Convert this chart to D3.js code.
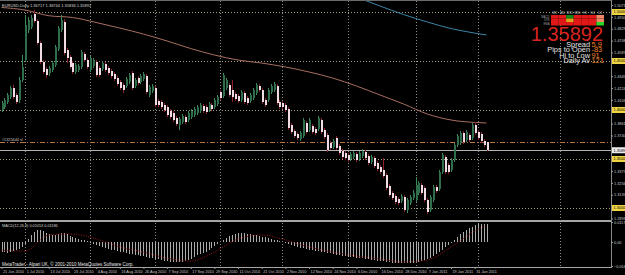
<!DOCTYPE html>
<html lang="en">
<head>
<meta charset="utf-8">
<title>EURUSD,Daily - MetaTrader</title>
<script src="https://cdn.jsdelivr.net/npm/d3@7"></script>
<style>
html, body { margin: 0; padding: 0; background: #000; }
svg { display: block; }
</style>
</head>
<body>
<div id="chart"></div>
<script>
// ---- data ----
var dateLabels = ["21 Jun 2010","1 Jul 2010","13 Jul 2010","23 Jul 2010","4 Aug 2010","16 Aug 2010","26 Aug 2010",
  "7 Sep 2010","17 Sep 2010","29 Sep 2010","11 Oct 2010","21 Oct 2010","2 Nov 2010","12 Nov 2010","24 Nov 2010",
  "6 Dec 2010","16 Dec 2010","28 Dec 2010","7 Jan 2011","19 Jan 2011","31 Jan 2011"];

// bar index of each month start (last one is in the empty area on the right)
var monthGrid = [8, 30, 52, 74, 95, 117, 140, 161, 189];

var open = [1.4000,1.4031,1.4082,1.4133,1.4224,1.4153,1.4102,1.4306,1.4510,1.4816,
  1.4847,1.4979,1.4908,1.4683,1.4490,1.4418,1.4377,1.4408,1.4459,1.4622,
  1.4816,1.4898,1.4612,1.4541,1.4479,1.4388,1.4408,1.4439,1.4571,1.4510,
  1.4408,1.4449,1.4490,1.4428,1.4418,1.4469,1.4428,1.4398,1.4367,1.4326,
  1.4286,1.4255,1.4245,1.4286,1.4377,1.4245,1.4326,1.4286,1.4316,1.4347,
  1.4153,1.4194,1.4224,1.4092,1.4082,1.4051,1.4031,1.3990,1.3969,1.3918,
  1.3847,1.3878,1.3929,1.3898,1.3929,1.3949,1.3969,1.3990,1.4041,1.4031,
  1.4000,1.4051,1.4031,1.4061,1.4184,1.4143,1.4224,1.4255,1.4204,1.4163,
  1.4143,1.4102,1.4173,1.4122,1.4092,1.4122,1.4173,1.4245,1.4204,1.4102,
  1.4102,1.4184,1.4204,1.4245,1.4082,1.4071,1.4051,1.4010,1.3847,1.3786,
  1.3755,1.3704,1.3735,1.3867,1.3796,1.3837,1.3806,1.3806,1.3898,1.3796,
  1.3745,1.3663,1.3623,1.3714,1.3633,1.3582,1.3561,1.3541,1.3500,1.3521,
  1.3551,1.3500,1.3531,1.3572,1.3531,1.3470,1.3510,1.3459,1.3419,1.3388,
  1.3337,1.3225,1.3153,1.3123,1.3092,1.3072,1.3113,1.2980,1.3051,1.3102,
  1.3082,1.3153,1.3235,1.3204,1.3082,1.2980,1.3082,1.3215,1.3194,1.3368,
  1.3521,1.3439,1.3388,1.3490,1.3643,1.3663,1.3765,1.3694,1.3745,1.3714,
  1.3847,1.3776,1.3755,1.3684,1.36717];
var high = [1.4092,1.4122,1.4173,1.4245,1.4255,1.4173,1.4337,1.4561,1.4969,1.4949,
  1.4969,1.5020,1.4928,1.4704,1.4510,1.4439,1.4449,1.4500,1.4663,1.4857,
  1.4969,1.4928,1.4632,1.4561,1.4500,1.4479,1.4469,1.4612,1.4592,1.4530,
  1.4551,1.4530,1.4510,1.4449,1.4500,1.4490,1.4449,1.4418,1.4388,1.4347,
  1.4306,1.4275,1.4337,1.4377,1.4398,1.4326,1.4347,1.4367,1.4388,1.4367,
  1.4255,1.4265,1.4245,1.4112,1.4102,1.4071,1.4051,1.4010,1.3990,1.3939,
  1.3929,1.3959,1.3949,1.3990,1.4010,1.4031,1.4051,1.4071,1.4061,1.4051,
  1.4082,1.4071,1.4122,1.4153,1.4204,1.4377,1.4326,1.4275,1.4306,1.4184,
  1.4163,1.4204,1.4194,1.4143,1.4173,1.4224,1.4275,1.4265,1.4224,1.4122,
  1.4224,1.4265,1.4286,1.4265,1.4102,1.4092,1.4071,1.4031,1.3867,1.3806,
  1.3776,1.3786,1.3918,1.3888,1.3918,1.3857,1.3827,1.3939,1.3918,1.3816,
  1.3765,1.3684,1.3704,1.3735,1.3653,1.3602,1.3582,1.3561,1.3572,1.3582,
  1.3572,1.3582,1.3602,1.3592,1.3551,1.3541,1.3531,1.3480,1.3439,1.3510,
  1.3357,1.3245,1.3174,1.3143,1.3113,1.3143,1.3133,1.3102,1.3133,1.3184,
  1.3317,1.3276,1.3255,1.3225,1.3102,1.3133,1.3235,1.3235,1.3388,1.3561,
  1.3541,1.3459,1.3510,1.3663,1.3755,1.3786,1.3786,1.3796,1.3765,1.3867,
  1.3878,1.3796,1.3776,1.3704,1.36744];
var low = [1.3980,1.4010,1.4061,1.4112,1.4112,1.4061,1.4071,1.4286,1.4490,1.4785,
  1.4826,1.4887,1.4663,1.4469,1.4367,1.4326,1.4347,1.4388,1.4439,1.4602,
  1.4796,1.4561,1.4479,1.4418,1.4367,1.4367,1.4388,1.4418,1.4490,1.4418,
  1.4388,1.4428,1.4337,1.4337,1.4398,1.4388,1.4357,1.4326,1.4296,1.4245,
  1.4204,1.4173,1.4224,1.4265,1.4204,1.4224,1.4255,1.4265,1.4296,1.4163,
  1.4133,1.4173,1.4031,1.4031,1.4010,1.3980,1.3929,1.3908,1.3878,1.3837,
  1.3796,1.3857,1.3857,1.3878,1.3908,1.3929,1.3949,1.3969,1.3969,1.3959,
  1.3980,1.3990,1.4010,1.4041,1.4102,1.4122,1.4204,1.4133,1.4082,1.4092,
  1.4071,1.4082,1.4061,1.4051,1.4071,1.4102,1.4153,1.4184,1.4061,1.4031,
  1.4082,1.4163,1.4184,1.4051,1.4010,1.4010,1.3980,1.3796,1.3755,1.3714,
  1.3694,1.3684,1.3714,1.3755,1.3776,1.3755,1.3745,1.3786,1.3755,1.3704,
  1.3572,1.3592,1.3602,1.3592,1.3541,1.3500,1.3490,1.3470,1.3480,1.3500,
  1.3470,1.3480,1.3510,1.3490,1.3439,1.3449,1.3408,1.3378,1.3347,1.3306,
  1.3184,1.3113,1.3082,1.3041,1.3031,1.3051,1.2960,1.2949,1.3031,1.3082,
  1.3062,1.3133,1.3133,1.3062,1.2939,1.2960,1.3062,1.3153,1.3174,1.3347,
  1.3347,1.3347,1.3368,1.3470,1.3623,1.3643,1.3653,1.3674,1.3674,1.3694,
  1.3745,1.3694,1.3663,1.3623,1.35836];
var close = [1.4071,1.4102,1.4153,1.4224,1.4133,1.4082,1.4306,1.4439,1.4867,1.4918,
  1.4938,1.4908,1.4683,1.4490,1.4388,1.4357,1.4428,1.4479,1.4643,1.4836,
  1.4918,1.4581,1.4530,1.4439,1.4388,1.4459,1.4449,1.4592,1.4510,1.4439,
  1.4530,1.4510,1.4357,1.4357,1.4479,1.4408,1.4377,1.4347,1.4316,1.4265,
  1.4224,1.4204,1.4316,1.4357,1.4224,1.4306,1.4275,1.4347,1.4367,1.4184,
  1.4235,1.4245,1.4051,1.4051,1.4031,1.4000,1.3949,1.3929,1.3898,1.3857,
  1.3908,1.3939,1.3878,1.3969,1.3990,1.4010,1.4031,1.4051,1.3990,1.3980,
  1.4061,1.4010,1.4102,1.4133,1.4122,1.4357,1.4306,1.4153,1.4133,1.4112,
  1.4092,1.4184,1.4082,1.4071,1.4153,1.4204,1.4255,1.4204,1.4082,1.4051,
  1.4204,1.4245,1.4265,1.4071,1.4031,1.4031,1.4000,1.3816,1.3776,1.3735,
  1.3714,1.3765,1.3898,1.3776,1.3898,1.3776,1.3765,1.3918,1.3776,1.3725,
  1.3592,1.3612,1.3684,1.3612,1.3561,1.3521,1.3510,1.3490,1.3551,1.3561,
  1.3490,1.3561,1.3582,1.3510,1.3459,1.3521,1.3429,1.3398,1.3368,1.3327,
  1.3204,1.3133,1.3102,1.3062,1.3051,1.3123,1.2980,1.3082,1.3113,1.3153,
  1.3235,1.3255,1.3153,1.3082,1.2960,1.3113,1.3215,1.3174,1.3368,1.3541,
  1.3368,1.3368,1.3490,1.3643,1.3735,1.3765,1.3674,1.3776,1.3694,1.3847,
  1.3765,1.3714,1.3684,1.3643,1.35892];

// moving averages and MACD signal, read every 8th bar
var sampleIdx = [0,8,16,24,32,40,48,56,64,72,80,88,96,104,112,120,128,136,144,152,160,164];
var maPink = [1.5046,1.5020,1.4962,1.4944,1.4893,1.4836,1.4775,1.4704,1.4627,1.4561,1.4510,
  1.4479,1.4439,1.4388,1.4326,1.4245,1.4153,1.4061,1.3959,1.3898,1.3873,1.3867];
var maBlue = [null,null,null,null,null,null,null,null,null,null,null,
  null,null,null,null,1.5153,1.5061,1.4974,1.4898,1.4831,1.4785,1.4765];
var macdSignal = [-0.0047,-0.0053,0.0041,0.0047,0.0018,-0.0029,-0.0059,-0.0094,-0.0111,-0.0059,0.0018,
  0.0041,0.0012,-0.0029,-0.0059,-0.0082,-0.0099,-0.0117,-0.0105,-0.0029,0.0064,0.0099];

// MACD main (histogram), one per bar
var macdMain = [-0.0059,-0.0059,-0.0064,-0.0059,-0.0053,-0.0047,-0.0041,-0.0029,
  -0.0012,0.0018,0.0041,0.0059,0.0070,0.0070,0.0064,
  0.0053,0.0047,0.0041,0.0041,0.0047,0.0053,0.0053,0.0047,
  0.0035,0.0029,0.0023,0.0018,0.0012,0.0012,0.0006,
  -0.0006,-0.0012,-0.0018,-0.0023,-0.0029,-0.0035,-0.0041,-0.0047,
  -0.0047,-0.0053,-0.0059,-0.0059,-0.0064,-0.0070,-0.0070,-0.0076,
  -0.0076,-0.0082,-0.0082,-0.0088,-0.0094,-0.0094,-0.0099,-0.0099,
  -0.0105,-0.0111,-0.0111,-0.0117,-0.0117,-0.0117,-0.0117,-0.0117,
  -0.0111,-0.0105,-0.0099,-0.0088,-0.0076,-0.0070,-0.0064,-0.0059,
  -0.0047,-0.0035,-0.0023,-0.0012,0.0000,0.0012,
  0.0023,0.0035,0.0041,0.0047,0.0053,0.0053,0.0053,0.0047,
  0.0047,0.0041,0.0041,0.0035,0.0029,0.0029,0.0023,0.0018,
  0.0012,0.0012,0.0006,0.0000,-0.0006,
  -0.0012,-0.0018,-0.0023,-0.0029,-0.0035,-0.0035,-0.0041,-0.0047,
  -0.0047,-0.0053,-0.0053,-0.0059,-0.0059,-0.0064,-0.0064,-0.0070,
  -0.0076,-0.0076,-0.0082,-0.0082,-0.0088,-0.0088,-0.0088,-0.0094,
  -0.0094,-0.0094,-0.0099,-0.0099,-0.0105,-0.0105,-0.0111,-0.0111,
  -0.0111,-0.0117,-0.0117,-0.0123,-0.0123,-0.0123,-0.0123,-0.0123,
  -0.0123,-0.0123,-0.0123,-0.0117,-0.0117,-0.0111,-0.0105,-0.0099,
  -0.0094,-0.0082,-0.0070,-0.0059,-0.0047,-0.0029,-0.0018,-0.0006,
  0.0012,0.0029,0.0047,0.0059,0.0070,0.0082,0.0088,0.0099,
  0.0105,0.0105,0.0105,0.01053];

// price axis
var priceTicks = [1.5071,1.4950,1.4829,1.4708,1.4587,1.4345,1.4224,1.4103,1.3861,1.3740,1.3377,1.3256,1.3135,1.2893];
var levels = [1.50, 1.45, 1.40, 1.35, 1.30];
var slPrice = 1.3673;
var macdTicks = [0.0117, 0, -0.0140];

// info panel
var panelCols = ["M1","M5","M15","M30","H1","H4","D1"];
var panelRows = ["MACD","STR","EMA"];
var panelState = [
  ["dn","dn","up","dn","dn","dn","wk"],
  ["dn","dn","fl","dn","dn","dn","wk"],
  ["dn","dn","dn","dn","dn","dn","up2"]
];
var infoLabels = ["Spread","Pips to Open","Hi to Low","Daily Av"];
var infoValues = ["5.9","-83","91","121"];

// ---- drawing ----
var FONT = "'Liberation Sans', Arial, sans-serif";
var W = 625, H = 275;
var svg = d3.select("#chart").append("svg")
    .attr("width", W).attr("height", H)
    .attr("font-family", FONT);
svg.append("rect").attr("width", W).attr("height", H).attr("fill", "#000");

var x = d3.scaleLinear().domain([0, 164]).range([1.5, 486.5]);
var y = d3.scaleLinear().domain([1.30, 1.50]).range([208, 12]);
var ym = d3.scaleLinear().domain([-0.0140, 0.0117]).range([266, 222]);
var last = close.length - 1;

var defs = svg.append("defs");
defs.append("clipPath").attr("id", "clipMain")
    .append("rect").attr("x", 0).attr("y", 1).attr("width", 611).attr("height", 219);

// window frames
svg.append("line").attr("x1", 0).attr("x2", 611).attr("y1", 0.5).attr("y2", 0.5).attr("stroke", "#6a6a6a");
svg.append("line").attr("x1", 0).attr("x2", 611).attr("y1", 221).attr("y2", 221)
    .attr("stroke", "#a6a6a6").attr("stroke-width", 2);
svg.append("line").attr("x1", 0).attr("x2", 611).attr("y1", 267.5).attr("y2", 267.5).attr("stroke", "#a6a6a6");
svg.append("line").attr("x1", 611.5).attr("x2", 611.5).attr("y1", 0).attr("y2", 268).attr("stroke", "#8a8a8a");

// vertical month grid
svg.append("g").selectAll("line").data(monthGrid).enter().append("line")
    .attr("x1", function(d) { return Math.round(x(d)) + 0.5; })
    .attr("x2", function(d) { return Math.round(x(d)) + 0.5; })
    .attr("y1", 1).attr("y2", 267)
    .attr("stroke", "#8c8c8c").attr("stroke-dasharray", "1,2");

var main = svg.append("g").attr("clip-path", "url(#clipMain)");

// horizontal level lines
main.append("g").selectAll("line").data(levels).enter().append("line")
    .attr("x1", 0).attr("x2", 611)
    .attr("y1", function(d) { return Math.round(y(d)) + 0.5; })
    .attr("y2", function(d) { return Math.round(y(d)) + 0.5; })
    .attr("stroke", "#a8a084").attr("stroke-dasharray", "1,2");

// stop loss line
main.append("line").attr("x1", 0).attr("x2", 611)
    .attr("y1", Math.round(y(slPrice)) + 0.5).attr("y2", Math.round(y(slPrice)) + 0.5)
    .attr("stroke", "#b8743a").attr("stroke-dasharray", "5,2,1,2");
main.append("text").attr("x", 2).attr("y", Math.round(y(slPrice)) - 1.5)
    .attr("font-size", 3.8).attr("fill", "#c8c8c8").text("#1325644 sl");

// bid line
main.append("line").attr("x1", 0).attr("x2", 611)
    .attr("y1", Math.round(y(close[last])) + 0.5).attr("y2", Math.round(y(close[last])) + 0.5)
    .attr("stroke", "#b4b4b4");

// moving averages
var maLine = function(vals) {
  return d3.line()
    .defined(function(d, k) { return vals[k] != null; })
    .x(function(d) { return x(d); })
    .y(function(d, k) { return y(vals[k]); })
    .curve(d3.curveMonotoneX)(sampleIdx);
};
main.append("path").attr("d", maLine(maPink)).attr("fill", "none")
    .attr("stroke", "#a86e62").attr("stroke-width", 1);
main.append("path").attr("d", maLine(maBlue)).attr("fill", "none")
    .attr("stroke", "#3b85a8").attr("stroke-width", 1);

// candles
var bars = d3.range(close.length).map(function(i) {
  return { i: i, o: open[i], h: high[i], l: low[i], c: close[i] };
});
var gC = main.append("g").attr("shape-rendering", "crispEdges");
gC.selectAll(".wick").data(bars).enter().append("line")
    .attr("class", "wick")
    .attr("x1", function(d) { return Math.round(x(d.i)) + 0.5; })
    .attr("x2", function(d) { return Math.round(x(d.i)) + 0.5; })
    .attr("y1", function(d) { return y(d.h); })
    .attr("y2", function(d) { return y(d.l); })
    .attr("stroke", function(d) { return d.c >= d.o ? "#3c8a5c" : "#8e1f2c"; });
gC.selectAll(".body").data(bars).enter().append("rect")
    .attr("class", "body")
    .attr("x", function(d) { return Math.round(x(d.i)) - 0.5; })
    .attr("width", 2)
    .attr("y", function(d) { return y(Math.max(d.o, d.c)); })
    .attr("height", function(d) { return Math.max(1, y(Math.min(d.o, d.c)) - y(Math.max(d.o, d.c))); })
    .attr("fill", function(d) { return d.c >= d.o ? "#2e6e4a" : "#f3dbe3"; });

// MACD window
var gM = svg.append("g");
gM.append("g").attr("shape-rendering", "crispEdges")
  .selectAll("line").data(macdMain).enter().append("line")
    .attr("x1", function(d, i) { return Math.round(x(i)) + 0.5; })
    .attr("x2", function(d, i) { return Math.round(x(i)) + 0.5; })
    .attr("y1", ym(0))
    .attr("y2", function(d) { return ym(d); })
    .attr("stroke", "#acacac");
gM.append("path")
    .attr("d", d3.line().x(function(d) { return x(d); })
      .y(function(d, k) { return ym(macdSignal[k]); })
      .curve(d3.curveMonotoneX)(sampleIdx))
    .attr("fill", "none").attr("stroke", "#a01818").attr("stroke-dasharray", "1,1.5");
gM.append("text").attr("x", 2).attr("y", 226.5)
    .attr("font-size", 3.8).attr("fill", "#d0d0d0")
    .text("MACD(12,26,9) 0.01053 0.01186");

// right price axis
var gY = svg.append("g").attr("transform", "translate(611,0)")
    .call(d3.axisRight(y).tickValues(priceTicks).tickSize(2).tickPadding(1).tickFormat(d3.format(".5f")));
gY.select(".domain").remove();
gY.attr("font-size", 3.8).attr("font-family", FONT);
gY.selectAll("line").attr("stroke", "#9a9a9a");
gY.selectAll("text").attr("fill", "#c8c8c8");

// highlighted level labels
var gL = svg.append("g");
levels.forEach(function(v) {
  gL.append("rect").attr("x", 612).attr("y", y(v) - 3).attr("width", 13).attr("height", 6).attr("fill", "#efd444");
  gL.append("text").attr("x", 613.5).attr("y", y(v) + 1.4).attr("font-size", 3.8).attr("fill", "#000")
      .text(d3.format(".5f")(v));
});
gL.append("rect").attr("x", 612).attr("y", y(close[last]) - 3).attr("width", 13).attr("height", 6).attr("fill", "#ececec");
gL.append("text").attr("x", 613.5).attr("y", y(close[last]) + 1.4).attr("font-size", 3.8).attr("fill", "#000")
    .text(d3.format(".5f")(close[last]));

// MACD axis
var gYm = svg.append("g").attr("transform", "translate(611,0)")
    .call(d3.axisRight(ym).tickValues(macdTicks).tickSize(2).tickPadding(1)
      .tickFormat(function(d) { return d === 0 ? "0.00" : d3.format(".5f")(d); }));
gYm.select(".domain").remove();
gYm.attr("font-size", 3.8).attr("font-family", FONT);
gYm.selectAll("line").attr("stroke", "#9a9a9a");
gYm.selectAll("text").attr("fill", "#c8c8c8");

// time axis
var gX = svg.append("g").attr("transform", "translate(0,267)")
    .call(d3.axisBottom(x).tickValues(dateLabels.map(function(d, k) { return k * 8; }))
      .tickSize(2).tickPadding(1)
      .tickFormat(function(d, k) { return dateLabels[k]; }));
gX.select(".domain").remove();
gX.attr("font-size", 3.8).attr("font-family", FONT);
gX.selectAll("line").attr("stroke", "#9a9a9a");
gX.selectAll("text").attr("fill", "#c8c8c8").attr("text-anchor", "start").attr("x", 1);

// titles
svg.append("text").attr("x", 2).attr("y", 6.5).attr("font-size", 4).attr("fill", "#d8d8d8")
    .text("EURUSD,Daily  1.36717 1.36744 1.35836 1.35892");
svg.append("text").attr("x", 2).attr("y", 265.5).attr("font-size", 4.5).attr("fill", "#e6e6e6")
    .text("MetaTrader - Alpari UK, \u00a9 2001-2010 MetaQuotes Software Corp.");

// signal panel, top right
var cellW = 7.57, cellH = 3.5, px0 = 551, py0 = 15;
var stateColor = { dn: "#e01818", up: "#12881a", up2: "#2ad62a", wk: "#f08866", fl: "#dca418" };
var gP = svg.append("g");
gP.selectAll(".hd").data(panelCols).enter().append("text")
    .attr("x", function(d, k) { return px0 + cellW * (k + 0.5); })
    .attr("y", 13.6).attr("text-anchor", "middle")
    .attr("font-size", 3.2).attr("fill", "#cfcfcf").text(function(d) { return d; });
panelState.forEach(function(row, r) {
  gP.append("text").attr("x", px0 - 1.5).attr("y", py0 + cellH * r + 2.8)
      .attr("text-anchor", "end").attr("font-size", 2.8).attr("fill", "#9a9a9a").text(panelRows[r]);
  row.forEach(function(s, k) {
    gP.append("rect").attr("x", px0 + cellW * k).attr("y", py0 + cellH * r)
        .attr("width", cellW).attr("height", cellH).attr("fill", stateColor[s]);
  });
});

svg.append("text").attr("x", 603).attr("y", 40.5).attr("text-anchor", "end")
    .attr("font-size", 20).attr("fill", "#d8241f").text(d3.format(".5f")(close[last]));

infoLabels.forEach(function(t, k) {
  svg.append("text").attr("x", 590).attr("y", 46.5 + 5.5 * k).attr("text-anchor", "end")
      .attr("font-size", 7.4).attr("fill", "#e4e4e4").text(t);
  svg.append("text").attr("x", 591.5).attr("y", 46.5 + 5.5 * k)
      .attr("font-size", 7.4).attr("fill", "#f08428").text(infoValues[k]);
});
</script>
</body>
</html>
